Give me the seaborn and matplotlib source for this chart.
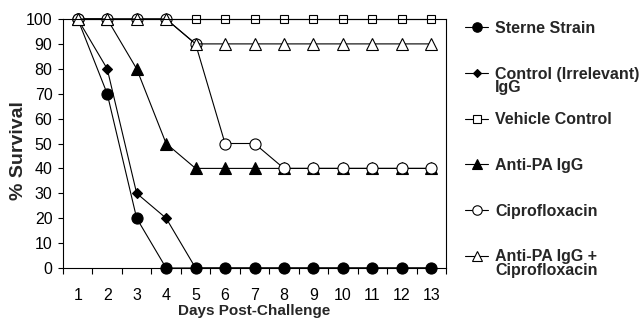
import matplotlib
matplotlib.use("Agg")
import matplotlib.pyplot as plt
from matplotlib.ticker import FixedLocator, NullFormatter
import seaborn as sns

days = list(range(1, 14))
sterne = [100, 70, 20, 0, 0, 0, 0, 0, 0, 0, 0, 0, 0]
control_igg = [100, 80, 30, 20, 0, 0, 0, 0, 0, 0, 0, 0, 0]
vehicle = [100] * 13
anti_pa = [100, 100, 80, 50, 40, 40, 40, 40, 40, 40, 40, 40, 40]
cipro = [100, 100, 100, 100, 90, 50, 50, 40, 40, 40, 40, 40, 40]
anti_pa_cipro = [100, 100, 100, 100, 90, 90, 90, 90, 90, 90, 90, 90, 90]

labels = ["Sterne Strain", "Control (Irrelevant)", "Vehicle Control",
          "Anti-PA IgG", "Ciprofloxacin", "Anti-PA IgG +"]
label_second_lines = ["", "IgG", "", "", "", "Ciprofloxacin"]
y_ticks = list(range(0, 101, 10))

sns.set_theme(style="white")
plt.rcParams["font.family"] = ["Liberation Sans", "DejaVu Sans"]

fig = plt.figure(figsize=(6.39, 3.2), dpi=100)
ax = fig.add_axes([63 / 639, 1 - 268 / 320, (446 - 63) / 639, (268 - 19) / 320])

styles = [
    (sterne, "o", "black", 8.0),
    (control_igg, "D", "black", 5.0),
    (vehicle, "s", "white", 6.2),
    (anti_pa, "^", "black", 8.0),
    (cipro, "o", "white", 8.0),
    (anti_pa_cipro, "^", "white", 8.0),
]
for (vals, mk, fc, ms), lab in zip(styles, labels):
    sns.lineplot(x=days, y=vals, ax=ax, color="black", linewidth=0.8,
                 marker=mk, markerfacecolor=fc, markeredgecolor="black",
                 markeredgewidth=0.8, markersize=ms, label=lab, clip_on=False)

ax.set_xlim(0.5, 13.5)
ax.set_ylim(0, 100)
ax.set_xticks(days)
ax.set_xticklabels([str(d) for d in days])
ax.xaxis.set_minor_locator(FixedLocator([d - 0.5 for d in days] + [13.5]))
ax.xaxis.set_minor_formatter(NullFormatter())
ax.set_yticks(y_ticks)
ax.tick_params(axis="x", which="major", length=0, pad=14.5, labelsize=11.5, colors="black")
ax.tick_params(axis="x", which="minor", length=4, width=0.8, direction="out",
               bottom=True, color="black")
ax.tick_params(axis="y", which="major", length=3.6, width=0.8, direction="out",
               left=True, pad=4, labelsize=11.5, colors="black")
for sp in ax.spines.values():
    sp.set_color("black")
    sp.set_linewidth(0.8)

ax.set_xlabel("Days Post-Challenge", fontsize=11, fontweight="bold", labelpad=0.5)
ax.set_ylabel("% Survival", fontsize=14, fontweight="bold")
ax.yaxis.set_label_coords(-0.094, 0.47)

handles, labs = ax.get_legend_handles_labels()
ax.get_legend().remove()
leg = fig.legend(handles, labs, loc="upper left", bbox_to_anchor=(465 / 639, 1 - 21 / 320),
                 frameon=False, borderpad=0, borderaxespad=0, handlelength=1.45,
                 handletextpad=0.45, labelspacing=1.92, markerscale=0.85,
                 prop={"weight": "bold", "size": 11.5})

# second lines of the two-line legend labels, placed under their first line
fig.canvas.draw()
for t, extra in zip(leg.get_texts(), label_second_lines):
    if extra:
        bb = t.get_window_extent()
        fig.text(bb.x0 / fig.bbox.width, (bb.y0 + 3.4 - 14.0) / fig.bbox.height, extra,
                 fontsize=11.5, fontweight="bold", va="baseline", ha="left")

fig.savefig("out.png", dpi=100)
